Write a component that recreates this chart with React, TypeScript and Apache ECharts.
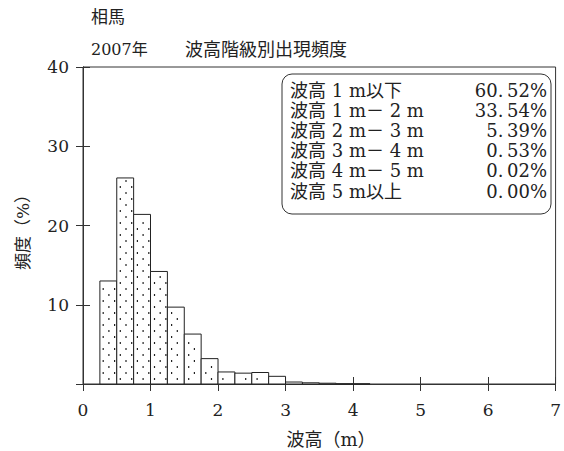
import React, { useEffect, useRef } from "react";
import * as echarts from "echarts";

// Wave height bins (m) and frequency (%)
const binLower = [0.25, 0.5, 0.75, 1.0, 1.25, 1.5, 1.75, 2.0, 2.25, 2.5, 2.75, 3.0, 3.25, 3.5, 3.75, 4.0];
const binUpper = [0.5, 0.75, 1.0, 1.25, 1.5, 1.75, 2.0, 2.25, 2.5, 2.75, 3.0, 3.25, 3.5, 3.75, 4.0, 4.25];
const freq = [13.0, 26.0, 21.4, 14.2, 9.7, 6.3, 3.2, 1.52, 1.37, 1.45, 0.97, 0.25, 0.15, 0.1, 0.03, 0.02];

const xTicks = [0, 1, 2, 3, 4, 5, 6, 7];
const yTicks = [0, 10, 20, 30, 40];

const titleLine1 = "相馬";
const titleYear = "2007年";
const titleMain = "波高階級別出現頻度";
const xName = "波高（m）";
const yName = "頻度（%）";

const legendLabels = [
  "波高 1 m以下",
  "波高 1 m－ 2 m",
  "波高 2 m－ 3 m",
  "波高 3 m－ 4 m",
  "波高 4 m－ 5 m",
  "波高 5 m以上",
];
const legendValues = ["60.\u200952%", "33.\u200954%", "5.\u200939%", "0.\u200953%", "0.\u200902%", "0.\u200900%"];

const FONT = "'DejaVu Serif', 'Noto Sans CJK JP', serif";
const INK = "#222";

export default function App() {
  const ref = useRef<HTMLDivElement>(null);

  useEffect(() => {
    if (!ref.current) return;
    const chart = echarts.init(ref.current, null, { renderer: "svg" });

    const data = binLower.map((lo, i) => [lo, binUpper[i], freq[i]]);

    const legendGraphics: any[] = [];
    legendGraphics.push({
      type: "rect",
      shape: { x: 282, y: 74, width: 269, height: 140, r: 10 },
      style: { fill: "#fff", stroke: "#333", lineWidth: 1 },
      z: 100,
    });
    legendLabels.forEach((t, i) => {
      const y = 90 + i * 20.2;
      legendGraphics.push({
        type: "text",
        x: 290,
        y,
        z: 101,
        style: { text: t, font: `18px ${FONT}`, fill: INK, align: "left", verticalAlign: "middle" },
      });
      legendGraphics.push({
        type: "text",
        x: 547,
        y,
        z: 101,
        style: { text: legendValues[i], font: `18px ${FONT}`, fill: INK, align: "right", verticalAlign: "middle" },
      });
    });

    const axisCommon = {
      type: "value" as const,
      splitLine: { show: false },
      axisLine: { show: true, lineStyle: { color: "#333", width: 1 } },
    };

    chart.setOption({
      animation: false,
      backgroundColor: "#fff",
      grid: {
        left: 83,
        right: 5,
        top: 67,
        bottom: 67,
        show: true,
        borderColor: "#333",
        borderWidth: 1,
        backgroundColor: "transparent",
      },
      xAxis: [
        {
          ...axisCommon,
          position: "bottom",
          min: xTicks[0],
          max: xTicks[xTicks.length - 1],
          interval: 1,
          axisTick: { show: true, inside: false, length: 7, lineStyle: { color: "#333" } },
          axisLabel: { show: true, margin: 17, fontSize: 17, fontFamily: FONT, color: INK },
        },
        {
          ...axisCommon,
          position: "bottom",
          min: xTicks[0],
          max: xTicks[xTicks.length - 1],
          interval: 1,
          axisTick: { show: true, inside: true, length: 7, lineStyle: { color: "#333" } },
          axisLabel: { show: false },
        },
      ],
      yAxis: [
        {
          ...axisCommon,
          position: "left",
          min: yTicks[0],
          max: yTicks[yTicks.length - 1],
          interval: 10,
          axisTick: { show: true, inside: false, length: 7, lineStyle: { color: "#333" } },
          axisLabel: {
            show: true,
            margin: 14,
            fontSize: 17,
            fontFamily: FONT,
            color: INK,
            formatter: (v: number) => (v === 0 ? "" : String(v)),
          },
        },
        {
          ...axisCommon,
          position: "left",
          min: yTicks[0],
          max: yTicks[yTicks.length - 1],
          interval: 10,
          axisTick: { show: true, inside: true, length: 7, lineStyle: { color: "#333" } },
          axisLabel: { show: false },
        },
      ],
      series: [
        {
          type: "custom",
          xAxisIndex: 0,
          yAxisIndex: 0,
          data,
          encode: { x: [0, 1], y: 2 },
          renderItem: (params: any, api: any) => {
            const x0 = api.value(0);
            const x1 = api.value(1);
            const v = api.value(2);
            const p0 = api.coord([x0, v]);
            const p1 = api.coord([x1, 0]);
            const left = p0[0];
            const top = p0[1];
            const right = p1[0];
            const bottom = p1[1];
            const children: any[] = [
              {
                type: "rect",
                shape: { x: left, y: top, width: right - left, height: bottom - top },
                style: { fill: "#fff", stroke: INK, lineWidth: 1 },
              },
            ];
            const dy = 6;
            const dx = 11.4;
            const half = dx / 2;
            for (let r = Math.ceil((top + 2) / dy); r * dy < bottom - 3; r++) {
              const yy = r * dy;
              const off = (r % 2) * half;
              for (let c = Math.ceil((left + 2 - off) / dx); c * dx + off < right - 2; c++) {
                children.push({
                  type: "rect",
                  shape: { x: c * dx + off, y: yy, width: 1.2, height: 2 },
                  style: { fill: "#222" },
                });
              }
            }
            return { type: "group", children };
          },
        },
      ],
      graphic: [
        {
          type: "text",
          x: 91,
          y: 17,
          style: { text: titleLine1, font: `17px ${FONT}`, fill: INK, align: "left", verticalAlign: "middle" },
        },
        {
          type: "text",
          x: 91,
          y: 49,
          style: { text: titleYear, font: `16px ${FONT}`, fill: INK, align: "left", verticalAlign: "middle" },
        },
        {
          type: "text",
          x: 185,
          y: 49,
          style: { text: titleMain, font: `18px ${FONT}`, fill: INK, align: "left", verticalAlign: "middle" },
        },
        {
          type: "text",
          x: 331,
          y: 439,
          style: { text: xName, font: `18px ${FONT}`, fill: INK, align: "center", verticalAlign: "middle" },
        },
        {
          type: "text",
          x: 23,
          y: 228,
          rotation: Math.PI / 2,
          style: { text: yName, font: `17px ${FONT}`, fill: INK, align: "center", verticalAlign: "middle" },
        },
        ...legendGraphics,
      ],
    });

    return () => {
      chart.dispose();
    };
  }, []);

  return (
    <div
      ref={ref}
      style={{ position: "fixed", left: 0, top: 0, width: 564, height: 451, background: "#fff" }}
    />
  );
}
